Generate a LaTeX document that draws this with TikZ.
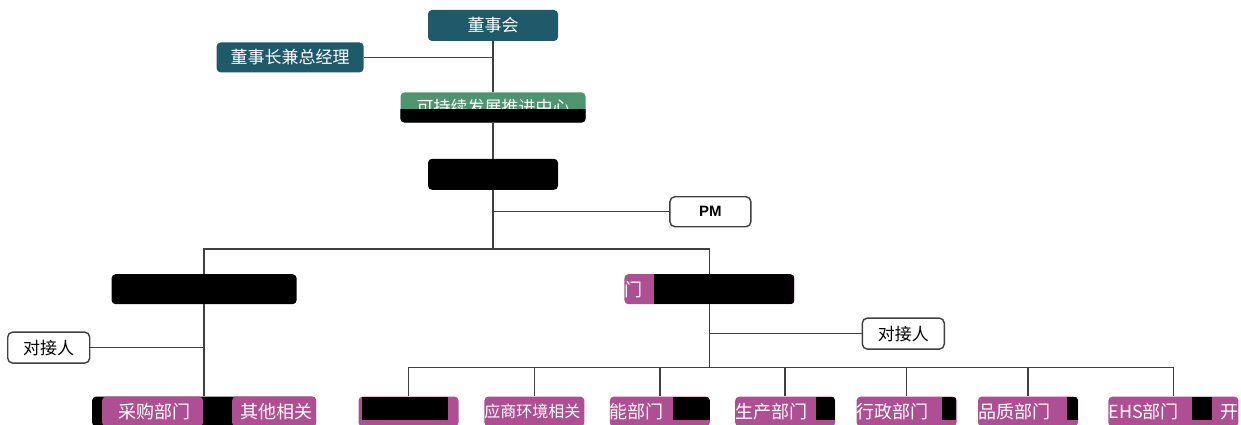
\documentclass[tikz,border=0pt]{standalone}
\usepackage{fontspec}
\setmainfont{Liberation Sans}
\newfontfamily\cjk{Noto Sans CJK SC}
\usepackage{tikz}
\usetikzlibrary{positioning}
\definecolor{boardcol}{HTML}{1F5A6A}
\definecolor{greencol}{HTML}{4F9470}
\definecolor{deptcol}{HTML}{AF4F93}
\definecolor{linecol}{HTML}{404040}

\begin{document}
\begin{tikzpicture}[node distance=10pt,
  head/.style={fill=boardcol, text=white, rounded corners=4pt, minimum height=31pt, inner sep=0pt, font=\cjk\fontsize{17}{20}\selectfont},
  blank/.style={fill=black, rounded corners=4pt, minimum height=30pt, inner sep=0pt},
  contact/.style={draw=linecol, line width=1.4pt, fill=white, rounded corners=5pt, minimum height=30pt, inner sep=0pt, font=\cjk\fontsize{17}{20}\selectfont},
  dept/.style={fill=deptcol, text=white, rounded corners=4pt, minimum height=30pt, inner sep=0pt, text width=#1, minimum width=#1, align=left, font=\cjk\fontsize{18}{20}\selectfont},
  dept/.default=100pt,
  blackout/.style n args={3}{path picture={\fill[black, sharp corners] ([xshift=#1]path picture bounding box.north west) rectangle ([xshift=#2, yshift=#3]path picture bounding box.south west);}},
  link/.style={draw=linecol, line width=1.5pt}]
  \useasboundingbox (0,0) rectangle (1241pt,-425pt);

  \node[head, minimum width=130pt] (board) at (493pt,-25.5pt) {董事会};
  \node[head, minimum width=147pt, minimum height=30pt, below left=1pt and 64pt of board] (chair) {董事长兼总经理};
  \node[head, fill=greencol, minimum width=185pt, minimum height=30pt, below=51pt of board] (center) {可持续发展推进中心};
  \node[blank, minimum width=130pt, minimum height=31pt, below=36pt of center] (team) {};
  \node[contact, minimum width=81pt, below right=6pt and 111pt of team, font=\bfseries\fontsize{15}{18}\selectfont] (pm) {PM};
  \node[blank, minimum width=185pt, below left=84pt and 131pt of team] (leftgrp) {};
  \node[dept=170pt, below right=84pt and 66pt of team, blackout={30pt}{170pt}{0pt}] (rightgrp) {门};
  \node[contact, minimum width=82pt, minimum height=31pt, below left=27pt and 21pt of leftgrp] (contactL) {对接人};
  \node[contact, minimum width=82pt, minimum height=31pt, below right=13pt and 67pt of rightgrp] (contactR) {对接人};

  % bottom row
  \node[dept=224pt, fill=black, below=92pt of leftgrp,
    path picture={
      \fill[deptcol, rounded corners=4pt] ([xshift=10pt]path picture bounding box.north west) rectangle ([xshift=111pt]path picture bounding box.south west);
      \fill[deptcol, rounded corners=4pt] ([xshift=140pt]path picture bounding box.north west) rectangle ([xshift=224pt]path picture bounding box.south west);}]
    (dL) {\hspace*{26pt}采购部门\hspace{50pt}其他相关};
  \node[dept, below left=92pt and 165.5pt of rightgrp, blackout={3pt}{89pt}{7pt}] (d1) {};
  \node[dept, right=25.5pt of d1, font=\cjk\fontsize{16}{20}\selectfont] (d2) {应商环境相关};
  \node[dept, right=25pt of d2, blackout={63pt}{100pt}{7pt}] (d3) {能部门};
  \node[dept, right=25pt of d3, blackout={81pt}{100pt}{7pt}] (d4) {生产部门};
  \node[dept, right=21pt of d4, blackout={85pt}{100pt}{7pt}] (d5) {行政部门};
  \node[dept, right=21pt of d5, blackout={89pt}{100pt}{7pt}] (d6) {品质部门};
  \node[dept=130pt, right=30pt of d6, blackout={84pt}{104pt}{7pt}] (d7) {EHS部门\hfill 开};

  \begin{scope}
    \clip[rounded corners=4pt] (center.north west) rectangle (center.south east);
    \fill[black] ([yshift=14pt]center.south west) rectangle (center.south east);
  \end{scope}

  \coordinate[below=59pt of team] (split);
  \coordinate[below=63pt of rightgrp] (rsplit);

  \draw[link] (board) -- (center);
  \draw[link] (chair) -- (chair -| board);
  \draw[link] (center) -- (team);
  \draw[link] (team) -- (split);
  \draw[link] (pm) -- (pm -| team);
  \draw[link] (leftgrp.north) |- (split) -| (rightgrp.north);
  \draw[link] (leftgrp) -- (dL);
  \draw[link] (contactL) -- (contactL -| leftgrp);
  \draw[link] (rightgrp) -- (rsplit);
  \draw[link] (contactR) -- (contactR -| rightgrp);
  \draw[link] (d1.north) |- (rsplit) -| (d7.north);
  \draw[link] (d2) -- (d2 |- rsplit);
  \draw[link] (d3) -- (d3 |- rsplit);
  \draw[link] (d4) -- (d4 |- rsplit);
  \draw[link] (d5) -- (d5 |- rsplit);
  \draw[link] (d6) -- (d6 |- rsplit);
\end{tikzpicture}
\end{document}
